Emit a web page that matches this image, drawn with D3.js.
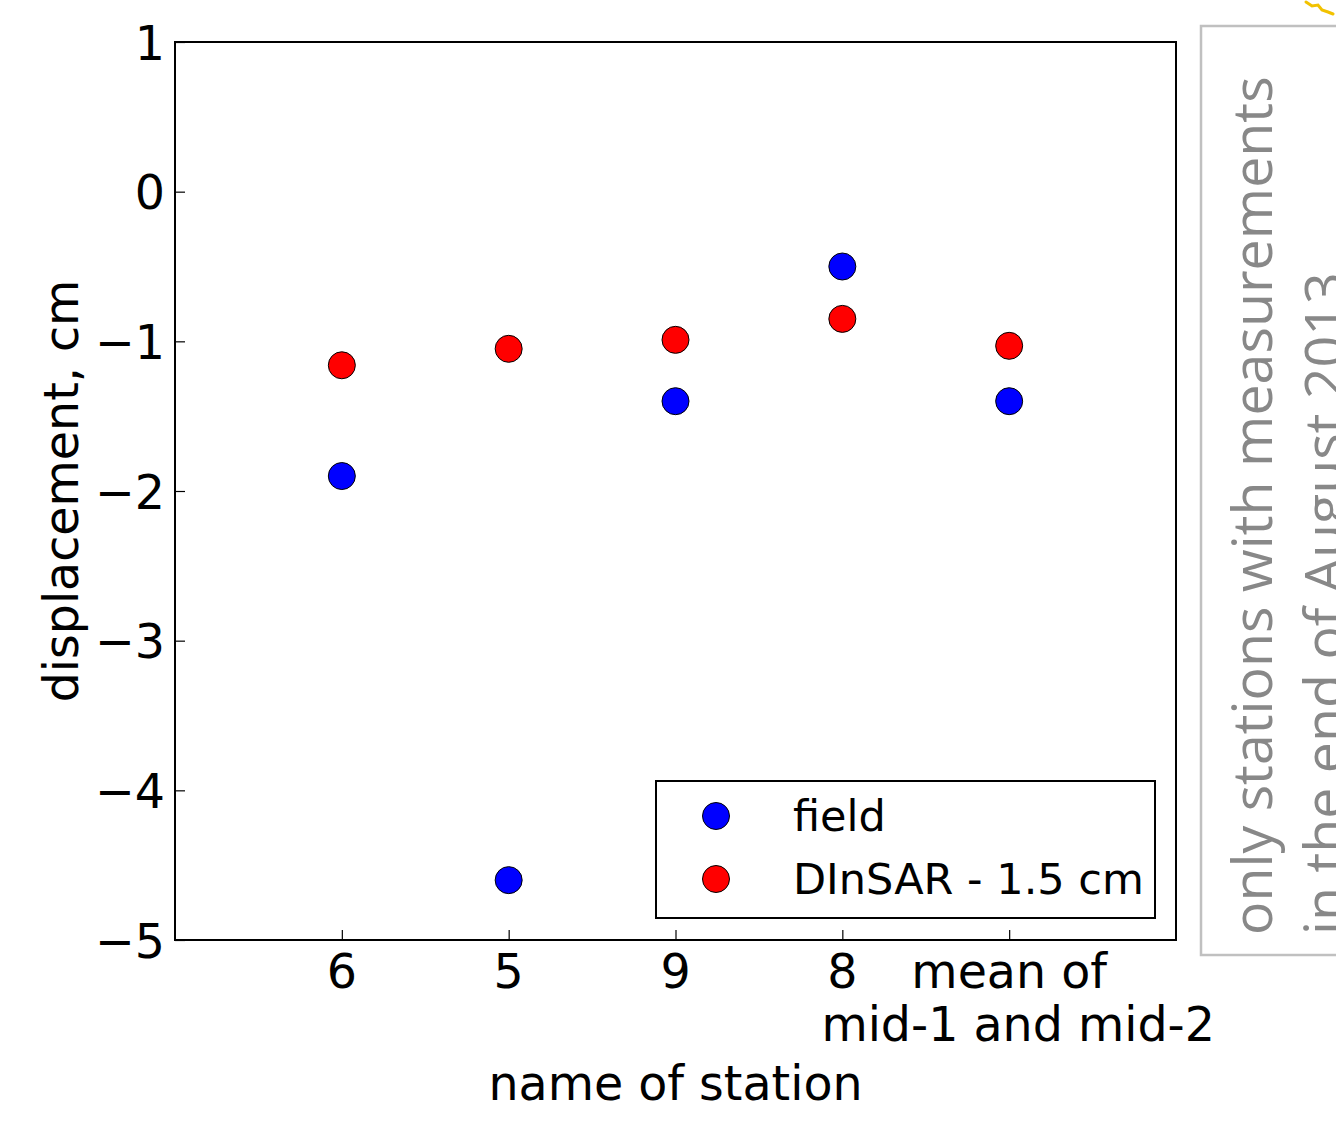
<!DOCTYPE html>
<html>
<head>
<meta charset="utf-8">
<script src="https://cdn.jsdelivr.net/npm/d3@7"></script>
<style>
    body { margin: 0; background: #fff; }
    svg { display: block; font-family: "DejaVu Sans", sans-serif; }
</style>
</head>
<body>
<div id="chart"></div>
<script>
// stations on the x axis, in plotting order
const stations = ["6", "5", "9", "8", "mean of\nmid-1 and mid-2"];
const field = [-1.90, -4.60, -1.40, -0.50, -1.40];
const dinsar = [-1.16, -1.05, -0.99, -0.85, -1.03];
const yTicks = [1, 0, -1, -2, -3, -4, -5];

const width = 1336, height = 1124;
const margin = {top: 42, right: 160, bottom: 184, left: 175};
const fontSize = 47.5;

const svg = d3.select("#chart")
    .append("svg")
    .attr("width", width)
    .attr("height", height);

const x = d3.scaleLinear()
    .domain([0, stations.length + 1])
    .range([margin.left, width - margin.right]);

const y = d3.scaleLinear()
    .domain([-5, 1])
    .range([height - margin.bottom, margin.top]);

// x axis, ticks pointing inward
const xAxis = g => g
    .attr("transform", `translate(0,${height - margin.bottom})`)
    .call(d3.axisBottom(x).tickValues(d3.range(1, stations.length + 1)).tickSize(-10).tickSizeOuter(0).tickFormat(""))
    .call(g => g.select(".domain").remove())
    .call(g => g.selectAll(".tick line").attr("stroke", "#000").attr("stroke-width", 1.2));

const yAxis = g => g
    .attr("transform", `translate(${margin.left},0)`)
    .call(d3.axisLeft(y).tickValues(yTicks).tickSize(-10).tickSizeOuter(0)
        .tickFormat(d => d < 0 ? "\u2212" + Math.abs(d) : d))
    .call(g => g.select(".domain").remove())
    .call(g => g.selectAll(".tick line").attr("stroke", "#000").attr("stroke-width", 1.2))
    .call(g => g.selectAll(".tick text")
        .attr("x", -10)
        .attr("dy", "0.36em")
        .attr("font-size", fontSize)
        .attr("font-family", "DejaVu Sans")
        .attr("fill", "#000"));

svg.append("g").call(xAxis);
svg.append("g").call(yAxis);

// x tick labels, multi-line
const xLabels = svg.append("g")
    .attr("font-size", fontSize)
    .attr("text-anchor", "middle")
    .selectAll("text")
    .data(stations)
    .join("text")
    .attr("x", (d, i) => x(i + 1))
    .attr("y", height - margin.bottom + 48);

xLabels.selectAll("tspan")
    .data(d => d.split("\n"))
    .join("tspan")
    .attr("x", function () { return +this.parentNode.getAttribute("x"); })
    .attr("dx", (d, i) => i === 0 ? 0 : 9)
    .attr("dy", (d, i) => i === 0 ? 0 : 53)
    .text(d => d);

// frame
svg.append("rect")
    .attr("x", margin.left)
    .attr("y", margin.top)
    .attr("width", width - margin.right - margin.left)
    .attr("height", height - margin.bottom - margin.top)
    .attr("fill", "none")
    .attr("stroke", "#000")
    .attr("stroke-width", 2);

// axis labels
svg.append("text")
    .attr("x", (margin.left + width - margin.right) / 2)
    .attr("y", 1100)
    .attr("text-anchor", "middle")
    .attr("font-size", fontSize)
    .text("name of station");

svg.append("text")
    .attr("transform", `translate(78,${(margin.top + height - margin.bottom) / 2}) rotate(-90)`)
    .attr("text-anchor", "middle")
    .attr("font-size", fontSize)
    .text("displacement, cm");

// points
const series = [
    {name: "field", values: field, color: "#0000ff"},
    {name: "DInSAR - 1.5 cm", values: dinsar, color: "#ff0000"}
];

series.slice().reverse().forEach(s => {
    svg.append("g")
        .selectAll("circle")
        .data(s.values)
        .join("circle")
        .attr("cx", (d, i) => x(i + 1))
        .attr("cy", d => y(d))
        .attr("r", 13.5)
        .attr("fill", s.color)
        .attr("stroke", "#000")
        .attr("stroke-width", 1);
});

// legend
const legend = svg.append("g").attr("transform", "translate(656,781)");
legend.append("rect")
    .attr("width", 499)
    .attr("height", 137)
    .attr("fill", "#fff")
    .attr("stroke", "#000")
    .attr("stroke-width", 2);

const item = legend.selectAll("g")
    .data(series)
    .join("g")
    .attr("transform", (d, i) => `translate(0,${35 + i * 63})`);

item.append("circle")
    .attr("cx", 60)
    .attr("r", 13.5)
    .attr("fill", d => d.color)
    .attr("stroke", "#000");

item.append("text")
    .attr("x", 137)
    .attr("dy", "0.36em")
    .attr("font-size", 43)
    .text(d => d.name);

// side note box, clipped by the page edge
svg.append("rect")
    .attr("x", 1201)
    .attr("y", 26)
    .attr("width", 200)
    .attr("height", 929)
    .attr("fill", "none")
    .attr("stroke", "#c0c0c0")
    .attr("stroke-width", 2.5);

const note = ["only stations with measurements", "in the end of August 2013"];
svg.append("g")
    .attr("font-family", "Open Sans, sans-serif")
    .attr("font-size", 55.5)
    .attr("fill", "#888")
    .selectAll("text")
    .data(note)
    .join("text")
    .attr("transform", (d, i) => `translate(${1272 + i * 72},935) rotate(-90)`)
    .text(d => d);

// small yellow scribble in the corner
svg.append("path")
    .attr("d", "M1306,2 L1312,6 L1318,5 L1322,10 L1328,12 L1333,14")
    .attr("fill", "none")
    .attr("stroke", "#f2c200")
    .attr("stroke-width", 3)
    .attr("stroke-linecap", "round");
</script>
</body>
</html>
